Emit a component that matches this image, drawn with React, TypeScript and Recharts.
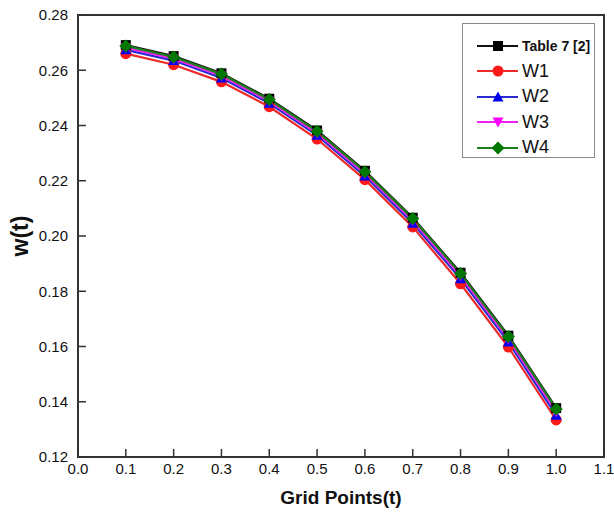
import { LineChart, Line, XAxis, YAxis, Legend, ReferenceArea } from "recharts";

const gridPoints = [0.1, 0.2, 0.3, 0.4, 0.5, 0.6, 0.7, 0.8, 0.9, 1.0];
const table7 = [0.2691, 0.2651, 0.2589, 0.2497, 0.2382, 0.2236, 0.2066, 0.1867, 0.1639, 0.1377];
const w1 = [0.2660, 0.2620, 0.2558, 0.2468, 0.2351, 0.2204, 0.2033, 0.1827, 0.1598, 0.1334];
const w2 = [0.2674, 0.2635, 0.2572, 0.2480, 0.2364, 0.2217, 0.2046, 0.1845, 0.1616, 0.1351];
const w3 = [0.2682, 0.2642, 0.2580, 0.2488, 0.2372, 0.2226, 0.2056, 0.1856, 0.1628, 0.1364];
const w4 = [0.2688, 0.2648, 0.2586, 0.2494, 0.2379, 0.2233, 0.2063, 0.1864, 0.1636, 0.1374];

const xTicks = [0, 0.1, 0.2, 0.3, 0.4, 0.5, 0.6, 0.7, 0.8, 0.9, 1.0, 1.1];
const yTicks = [0.12, 0.14, 0.16, 0.18, 0.2, 0.22, 0.24, 0.26, 0.28];

const data = gridPoints.map((t, i) => ({
  t,
  table7: table7[i],
  w1: w1[i],
  w2: w2[i],
  w3: w3[i],
  w4: w4[i],
}));

const series = [
  { key: "table7", name: "Table 7 [2]", stroke: "#111111", fill: "#000000", shape: "square" },
  { key: "w1", name: "W1", stroke: "#ee2a2a", fill: "#ff1a1a", shape: "circle" },
  { key: "w2", name: "W2", stroke: "#2a2ad0", fill: "#0000ee", shape: "up" },
  { key: "w3", name: "W3", stroke: "#ee22ee", fill: "#ff00ff", shape: "down" },
  { key: "w4", name: "W4", stroke: "#1a7f1a", fill: "#007700", shape: "diamond" },
];

const FONT = "'Liberation Sans', Arial, sans-serif";

function Marker({ shape, x, y, fill, s = 5.5 }: any) {
  if (shape === "square")
    return <rect x={x - s + 0.5} y={y - s + 0.5} width={2 * s - 1} height={2 * s - 1} fill={fill} />;
  if (shape === "circle") return <circle cx={x} cy={y} r={s} fill={fill} />;
  if (shape === "up")
    return <polygon points={`${x},${y - s} ${x + s},${y + s * 0.8} ${x - s},${y + s * 0.8}`} fill={fill} />;
  if (shape === "down")
    return <polygon points={`${x},${y + s} ${x + s},${y - s * 0.8} ${x - s},${y - s * 0.8}`} fill={fill} />;
  return <polygon points={`${x},${y - s - 1} ${x + s + 1},${y} ${x},${y + s + 1} ${x - s - 1},${y}`} fill={fill} />;
}

const XTick = ({ x, y, payload }: any) => (
  <g>
    <line x1={x} x2={x} y1={y - 6} y2={y - 14} stroke="#333" strokeWidth={1.5} />
    <text x={x} y={y} dy="0.71em" textAnchor="middle" fontSize={15} fill="#111" fontFamily={FONT}>
      {payload.value.toFixed(1)}
    </text>
  </g>
);

const YTick = ({ x, y, payload }: any) => (
  <g>
    <line x1={x + 10} x2={x + 18} y1={y} y2={y} stroke="#333" strokeWidth={1.5} />
    <text x={x} y={y} dy="0.35em" textAnchor="end" fontSize={15} fill="#111" fontFamily={FONT}>
      {payload.value.toFixed(2)}
    </text>
  </g>
);

const renderLegend = () => (
  <div
    style={{
      border: "1.5px solid #8a8a8a",
      background: "#fff",
      width: 133,
      height: 135,
      boxSizing: "border-box",
      paddingTop: 9,
      fontFamily: FONT,
    }}
  >
    {series.map((s, i) => (
      <div key={s.key} style={{ display: "flex", alignItems: "center", height: 25.5 }}>
        <svg width={60} height={20} style={{ flex: "none" }}>
          <line x1={14} x2={55} y1={10} y2={10} stroke={s.stroke} strokeWidth={2} />
          <Marker shape={s.shape} x={35} y={10} fill={s.fill} />
        </svg>
        <span
          style={{
            fontSize: i === 0 ? 14 : 18,
            fontWeight: i === 0 ? "bold" : "normal",
            color: "#111",
            marginLeft: -1,
          }}
        >
          {s.name}
        </span>
      </div>
    ))}
  </div>
);

export default function App() {
  return (
    <div style={{ position: "absolute", left: 0, top: 0, width: 614, height: 512, background: "#fff" }}>
      <LineChart
        width={614}
        height={512}
        data={data}
        margin={{ top: 15, right: 10, bottom: 0, left: 0 }}
      >
        <ReferenceArea x1={0} x2={1.1} y1={0.12} y2={0.28} fill="none" stroke="#333" strokeWidth={2} />
        <XAxis
          dataKey="t"
          type="number"
          domain={[0, 1.1]}
          ticks={xTicks}
          height={55}
          tickSize={0}
          tickMargin={6}
          tickLine={false}
          axisLine={{ stroke: "#333", strokeWidth: 2 }}
          tick={<XTick />}
          interval={0}
          label={{
            value: "Grid Points(t)",
            position: "insideBottom",
            offset: 8,
            fontSize: 19,
            fontWeight: "bold",
            fill: "#111",
            fontFamily: FONT,
          }}
        />
        <YAxis
          type="number"
          domain={[0.12, 0.28]}
          ticks={yTicks}
          width={78}
          tickSize={0}
          tickMargin={10}
          tickLine={false}
          axisLine={{ stroke: "#333", strokeWidth: 2 }}
          tick={<YTick />}
          interval={0}
          label={{
            value: "w(t)",
            angle: -90,
            position: "insideLeft",
            offset: 20,
            fontSize: 23,
            fontWeight: "bold",
            fill: "#111",
            fontFamily: FONT,
            style: { textAnchor: "middle" },
          }}
        />
        <Legend
          layout="horizontal"
          verticalAlign="middle"
          align="center"
          content={renderLegend}
          wrapperStyle={{ left: 462, top: 23, width: 133, height: 135 }}
        />
        {series.map((s) => (
          <Line
            key={s.key}
            dataKey={s.key}
            name={s.name}
            stroke={s.stroke}
            strokeWidth={2.2}
            isAnimationActive={false}
            dot={(p: any) => <Marker key={`${s.key}-${p.index}`} shape={s.shape} x={p.cx} y={p.cy} fill={s.fill} />}
          />
        ))}
      </LineChart>
    </div>
  );
}
